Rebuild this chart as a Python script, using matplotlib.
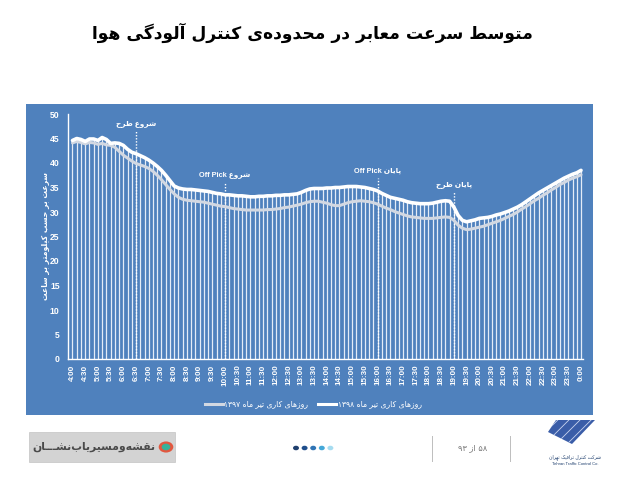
import re
import matplotlib
matplotlib.use("Agg")
import matplotlib.pyplot as plt
from matplotlib.lines import Line2D
from matplotlib.patches import Rectangle, Circle, Polygon

plt.rcParams['font.family'] = ['Liberation Sans', 'DejaVu Sans']
plt.rcParams['hatch.linewidth'] = 0.6

# ---------------- Arabic/Persian shaping helpers ----------------
FORMS = {
    '\u0621': ('\uFE80',),
    '\u0622': ('\uFE81', '\uFE82'),
    '\u0627': ('\uFE8D', '\uFE8E'),
    '\u0628': ('\uFE8F', '\uFE90', '\uFE91', '\uFE92'),
    '\u067E': ('\uFB56', '\uFB57', '\uFB58', '\uFB59'),
    '\u062A': ('\uFE95', '\uFE96', '\uFE97', '\uFE98'),
    '\u062B': ('\uFE99', '\uFE9A', '\uFE9B', '\uFE9C'),
    '\u062C': ('\uFE9D', '\uFE9E', '\uFE9F', '\uFEA0'),
    '\u0686': ('\uFB7A', '\uFB7B', '\uFB7C', '\uFB7D'),
    '\u062D': ('\uFEA1', '\uFEA2', '\uFEA3', '\uFEA4'),
    '\u062E': ('\uFEA5', '\uFEA6', '\uFEA7', '\uFEA8'),
    '\u062F': ('\uFEA9', '\uFEAA'),
    '\u0630': ('\uFEAB', '\uFEAC'),
    '\u0631': ('\uFEAD', '\uFEAE'),
    '\u0632': ('\uFEAF', '\uFEB0'),
    '\u0698': ('\uFB8A', '\uFB8B'),
    '\u0633': ('\uFEB1', '\uFEB2', '\uFEB3', '\uFEB4'),
    '\u0634': ('\uFEB5', '\uFEB6', '\uFEB7', '\uFEB8'),
    '\u0635': ('\uFEB9', '\uFEBA', '\uFEBB', '\uFEBC'),
    '\u0636': ('\uFEBD', '\uFEBE', '\uFEBF', '\uFEC0'),
    '\u0637': ('\uFEC1', '\uFEC2', '\uFEC3', '\uFEC4'),
    '\u0638': ('\uFEC5', '\uFEC6', '\uFEC7', '\uFEC8'),
    '\u0639': ('\uFEC9', '\uFECA', '\uFECB', '\uFECC'),
    '\u063A': ('\uFECD', '\uFECE', '\uFECF', '\uFED0'),
    '\u0641': ('\uFED1', '\uFED2', '\uFED3', '\uFED4'),
    '\u0642': ('\uFED5', '\uFED6', '\uFED7', '\uFED8'),
    '\u06A9': ('\uFB8E', '\uFB8F', '\uFB90', '\uFB91'),
    '\u06AF': ('\uFB92', '\uFB93', '\uFB94', '\uFB95'),
    '\u0644': ('\uFEDD', '\uFEDE', '\uFEDF', '\uFEE0'),
    '\u0645': ('\uFEE1', '\uFEE2', '\uFEE3', '\uFEE4'),
    '\u0646': ('\uFEE5', '\uFEE6', '\uFEE7', '\uFEE8'),
    '\u0648': ('\uFEED', '\uFEEE'),
    '\u0647': ('\uFEE9', '\uFEEA', '\uFEEB', '\uFEEC'),
    '\u06CC': ('\uFBFC', '\uFBFD', '\uFBFE', '\uFBFF'),
    '\u0640': ('\u0640', '\u0640', '\u0640', '\u0640'),
}


def shape_word(w):
    out = []
    n = len(w)
    for i, c in enumerate(w):
        if c == '\u200c':
            continue
        if c not in FORMS:
            out.append(c)
            continue
        f = FORMS[c]
        prev = w[i - 1] if i > 0 else None
        nxt = w[i + 1] if i < n - 1 else None
        jp = prev is not None and prev in FORMS and len(FORMS[prev]) == 4
        jn = nxt is not None and nxt in FORMS and len(FORMS[nxt]) >= 2 and len(f) == 4
        if jp and len(f) >= 2 and jn:
            out.append(f[3])
        elif jp and len(f) >= 2:
            out.append(f[1])
        elif jn:
            out.append(f[2])
        else:
            out.append(f[0])
    return ''.join(out)


_TOK = re.compile(
    r'[A-Za-z0-9\u06F0-\u06F9.:]+(?:[ ][A-Za-z0-9\u06F0-\u06F9.:]+)*'
    r'|[\u0600-\u06EF\u06FA-\u06FF\u200c]+|\s+|.')


def fa(text):
    toks = _TOK.findall(text)
    res = []
    for t in reversed(toks):
        if re.match(r'[\u0600-\u06EF\u06FA-\u06FF\u200c]', t):
            res.append(shape_word(t)[::-1])
        else:
            res.append(t)
    return ''.join(res)


# ---------------- data ----------------
title = 'متوسط سرعت معابر در محدوده‌ی کنترل آلودگی هوا'
y_label = 'سرعت بر حسب کیلومتر بر ساعت'
series_names = ['روزهای کاری تیر ماه ۱۳۹۷', 'روزهای کاری تیر ماه ۱۳۹۸']

# 10-minute steps from 4:00 to 0:00
times = [f'{(4 + i // 6) % 24}:{(i % 6) * 10:02d}' for i in range(121)]

speed_1398 = [
    44.6, 45.0, 44.8, 44.4, 44.9, 44.9,
    44.6, 45.2, 44.8, 44.0, 44.1, 44.0,
    43.6, 42.8, 42.2, 41.9, 41.5, 41.1,
    40.6, 40.0, 39.3, 38.5, 37.5, 36.4,
    35.3, 34.9, 34.7, 34.6, 34.6, 34.5,
    34.4, 34.3, 34.2, 34.0, 33.8, 33.7,
    33.5, 33.5, 33.4, 33.3, 33.3, 33.2,
    33.1, 33.1, 33.2, 33.2, 33.3, 33.3,
    33.4, 33.4, 33.5, 33.5, 33.6, 33.7,
    34.0, 34.4, 34.7, 34.8, 34.8, 34.8,
    34.9, 34.9, 35.0, 35.0, 35.1, 35.2,
    35.2, 35.2, 35.1, 35.0, 34.8, 34.6,
    34.3, 33.8, 33.4, 33.0, 32.8, 32.6,
    32.4, 32.1, 31.9, 31.8, 31.7, 31.7,
    31.7, 31.8, 32.0, 32.2, 32.3, 32.2,
    31.0, 29.3, 28.3, 28.0, 28.2, 28.4,
    28.7, 28.8, 28.9, 29.1, 29.4, 29.6,
    29.9, 30.2, 30.6, 31.0, 31.5, 32.1,
    32.7, 33.3, 33.9, 34.4, 34.9, 35.4,
    35.9, 36.4, 36.9, 37.3, 37.7, 38.0,
    38.5,
]

speed_1397 = [
    44.1, 44.4, 44.2, 43.9, 44.2, 44.1,
    43.8, 44.0, 43.7, 43.6, 43.2, 42.4,
    41.6, 41.0, 40.4, 39.9, 39.6, 39.3,
    38.9, 38.3, 37.5, 36.6, 35.6, 34.6,
    33.7, 33.0, 32.6, 32.4, 32.3, 32.2,
    32.1, 32.0, 31.8, 31.6, 31.4, 31.2,
    31.1, 30.9, 30.7, 30.6, 30.5, 30.4,
    30.4, 30.4, 30.4, 30.4, 30.5, 30.5,
    30.6, 30.7, 30.9, 31.0, 31.2, 31.4,
    31.6, 31.9, 32.1, 32.2, 32.2, 32.0,
    31.8, 31.5, 31.3, 31.3, 31.6, 31.9,
    32.1, 32.2, 32.3, 32.2, 32.1, 31.9,
    31.6, 31.2, 30.8, 30.5, 30.1, 29.8,
    29.5, 29.2, 29.0, 28.9, 28.8, 28.7,
    28.7, 28.7, 28.8, 28.9, 29.0, 28.9,
    28.3, 27.3, 26.7, 26.4, 26.5, 26.7,
    26.9, 27.1, 27.4, 27.7, 28.0, 28.3,
    28.7, 29.1, 29.5, 30.0, 30.6, 31.1,
    31.7, 32.3, 32.8, 33.4, 33.9, 34.5,
    35.0, 35.6, 36.0, 36.5, 36.9, 37.2,
    37.6,
]

events = ['شروع طرح', 'شروع Off Pick', 'پایان Off Pick', 'پایان طرح']
event_times = ['6:30', '10:00', '16:00', '19:00']
event_line_top = [46.7, 36.0, 37.0, 34.0]
event_label_y = [48.0, 37.6, 38.4, 35.5]

y_ticks = [0, 5, 10, 15, 20, 25, 30, 35, 40, 45, 50]

# ---------------- figure ----------------
W, H = 636, 483
fig = plt.figure(figsize=(W / 100, H / 100), dpi=100)
fig.patch.set_facecolor('white')


def fx(px):
    return px / W


def fy(py):
    return 1 - py / H


BLUE = '#4f81bd'
fig.add_artist(Rectangle((fx(26), fy(415)), fx(593) - fx(26), fy(104) - fy(415),
                         transform=fig.transFigure, facecolor=BLUE, edgecolor='none', zorder=0))

ax = fig.add_axes([fx(68), fy(359), fx(583) - fx(68), fy(114) - fy(359)])
ax.set_facecolor('none')
x = list(range(len(times)))

ax.vlines(x, 0, speed_1398, colors='#e4ecf7', lw=0.9, zorder=1)
ax.plot(x, speed_1397, color='#d2d8e2', lw=2.2, zorder=3, solid_capstyle='round')
ax.plot(x, speed_1398, color='white', lw=2.6, zorder=4, solid_capstyle='round')

for name, t, top, ly in zip(events, event_times, event_line_top, event_label_y):
    xi = times.index(t)
    ax.plot([xi, xi], [0, top], color='white', lw=1.0, ls=(0, (1, 1.2)), zorder=2)
    ax.text(xi, ly, fa(name), color='white', fontsize=5.3, fontweight='bold',
            ha='center', va='center', zorder=5)

ax.set_xlim(-1.06, 120.47)
ax.set_ylim(0, 50)
ax.set_yticks(y_ticks)
ax.set_yticklabels([str(v) for v in y_ticks], color='white', fontsize=6.2, fontweight='bold')
tick_idx = x[::3]
ax.set_xticks(tick_idx)
ax.set_xticklabels([times[i] for i in tick_idx], rotation=90, color='white',
                   fontsize=5.8, fontweight='bold')
ax.tick_params(axis='both', length=0)
ax.tick_params(axis='y', pad=6)
ax.tick_params(axis='x', pad=4)
for s in ['top', 'right']:
    ax.spines[s].set_visible(False)
for s in ['left', 'bottom']:
    ax.spines[s].set_color('white')
    ax.spines[s].set_linewidth(1.0)

fig.text(fx(46), fy(236), fa(y_label), rotation=90, color='white', fontsize=5.5,
         fontweight='bold', ha='center', va='center', family='DejaVu Sans')

# legend (manual, RTL style)
leg_colors = ['#d2d8e2', 'white']
leg_line_x = [(205, 223), (318, 336)]
for name, col, (x0, x1) in zip(series_names, leg_colors, leg_line_x):
    fig.add_artist(Line2D([fx(x0), fx(x1)], [fy(404), fy(404)], transform=fig.transFigure,
                          color=col, lw=2.2))
    fig.text(fx(x1 + 1.5), fy(404), fa(name), color='white', fontsize=5.5,
             ha='left', va='center', family='DejaVu Sans')

# title
fig.text(fx(312), fy(33), fa(title), ha='center', va='center', fontsize=12.3,
         fontweight='bold', color='black', family='DejaVu Sans')

# ---------------- footer ----------------
fig.add_artist(Rectangle((fx(29), fy(462)), fx(175) - fx(29), fy(432) - fy(462),
                         transform=fig.transFigure, facecolor='#d3d3d3', edgecolor='#c4c4c4',
                         lw=0.5))
fig.text(fx(94), fy(447), fa('نقشه‌ومسیریاب‌نشـــان'), ha='center', va='center',
         fontsize=7.8, fontweight='bold', color='#4a4a4a', family='DejaVu Sans')
fig.add_artist(Circle((fx(166), fy(447)), 0.0115, transform=fig.transFigure,
                      facecolor='#e2573f', edgecolor='none'))
fig.add_artist(Circle((fx(166), fy(447)), 0.0068, transform=fig.transFigure,
                      facecolor='#37b29a', edgecolor='none'))

dot_cols = ['#1f3f6e', '#1f4e8c', '#2f74b5', '#45a8d8', '#a6dcf0']
for i, c in enumerate(dot_cols):
    fig.add_artist(Circle((fx(296 + i * 8.6), fy(448)), 0.0047, transform=fig.transFigure,
                          facecolor=c, edgecolor='none'))

for sx in (432, 510):
    fig.add_artist(Line2D([fx(sx), fx(sx)], [fy(436), fy(461)], transform=fig.transFigure,
                          color='#bdbdbd', lw=0.7))
fig.text(fx(473), fy(448), fa('۵۸ از ۹۳'), ha='center', va='center', fontsize=6,
         color='#7a7a7a', family='DejaVu Sans')

fig.add_artist(Polygon([(fx(556), fy(420)), (fx(595), fy(420)), (fx(572), fy(444)),
                        (fx(548), fy(432))], closed=True, transform=fig.transFigure,
                       facecolor='#3a5da8', edgecolor='#c9d4ee', hatch='///', lw=0))
fig.text(fx(575), fy(457), fa('شرکت کنترل ترافیک تهران'), ha='center', va='center',
         fontsize=3.3, color='#1f3f6e', family='DejaVu Sans')
fig.text(fx(575), fy(464), 'Tehran Traffic Control Co.', ha='center', va='center',
         fontsize=3.0, color='#1f3f6e')

fig.savefig('out.png', dpi=100, facecolor='white')
